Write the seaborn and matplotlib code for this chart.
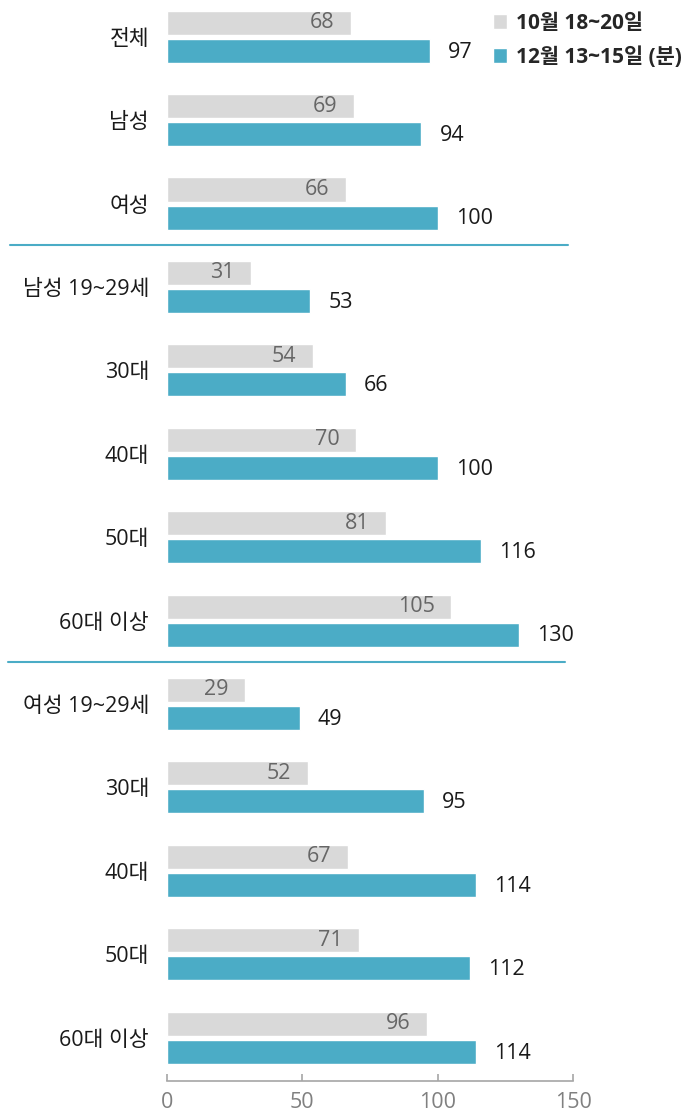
import pandas as pd
import matplotlib.pyplot as plt
import seaborn as sns
from matplotlib.patches import Patch

# Chart data
groups = ['전체', '남성', '여성', '남성 19~29세', '30대', '40대', '50대', '60대 이상',
          '여성 19~29세', '30대', '40대', '50대', '60대 이상']
oct_values = [68, 69, 66, 31, 54, 70, 81, 105, 29, 52, 67, 71, 96]
dec_values = [97, 94, 100, 53, 66, 100, 116, 130, 49, 95, 114, 112, 114]
series_names = ['10월 18~20일', '12월 13~15일 (분)']
x_ticks = [0, 50, 100, 150]

GRAY = '#D9D9D9'
BLUE = '#4BACC6'

sns.set_theme(style='white')
plt.rcParams['font.family'] = ['Open Sans', 'Noto Sans CJK KR', 'DejaVu Sans']

# unique keys so repeated labels (30대 ...) stay separate rows
keys = [f'{i}' for i in range(len(groups))]
df = pd.DataFrame({
    'key': keys * 2,
    'value': oct_values + dec_values,
    'series': [series_names[0]] * len(keys) + [series_names[1]] * len(keys),
})

fig = plt.figure(figsize=(6.94, 11.18), dpi=100)
ax = fig.add_axes([167 / 694, 1 - 1081 / 1118, 406 / 694, 1081 / 1118])

sns.barplot(data=df, x='value', y='key', hue='series', orient='h',
            palette=[GRAY, BLUE], width=0.672, gap=0.143, ax=ax,
            legend=False, saturation=1)

ax.set_xlim(0, 150)
ax.set_ylim(12.52, -0.44)
ax.set_xticks(x_ticks)
ax.set_yticks(range(len(groups)))
ax.set_yticklabels(groups, fontsize=15.5, color='#1a1a1a')
ax.tick_params(axis='y', length=0, pad=13)
ax.tick_params(axis='x', bottom=True, direction='in', length=5, width=1.2,
               color='#A6A6A6', labelsize=15.5, labelcolor='#808080', pad=8)
ax.set_xlabel('')
ax.set_ylabel('')
for side in ['top', 'right', 'left']:
    ax.spines[side].set_visible(False)
ax.spines['bottom'].set_color('#A6A6A6')
ax.spines['bottom'].set_linewidth(1.2)

# value labels
for bar, v in zip(ax.containers[0], oct_values):
    ax.annotate(f'{v}', (bar.get_width(), bar.get_y() + bar.get_height() / 2),
                xytext=(-12, 0), textcoords='offset points',
                ha='right', va='center', fontsize=15.5, color='#666666')
for bar, v in zip(ax.containers[1], dec_values):
    ax.annotate(f'{v}', (bar.get_width(), bar.get_y() + bar.get_height() / 2),
                xytext=(13, -1), textcoords='offset points',
                ha='left', va='center', fontsize=15.5, color='#1a1a1a')

# group separators
for y, x0, x1 in [(2.5, -0.387, 0.987), (7.5, -0.392, 0.980)]:
    ax.axhline(y, xmin=x0, xmax=x1, color=BLUE, lw=1.5, clip_on=False)

handles = [Patch(facecolor=GRAY, label=series_names[0]),
           Patch(facecolor=BLUE, label=series_names[1])]
fig.legend(handles=handles, loc='upper right', bbox_to_anchor=(1.0, 1.0),
           frameon=False, prop={'weight': 'bold', 'size': 15},
           handlelength=0.7, handleheight=0.7, handletextpad=0.4,
           labelspacing=0.6, borderaxespad=0.2)

fig.savefig('out.png', dpi=100)
